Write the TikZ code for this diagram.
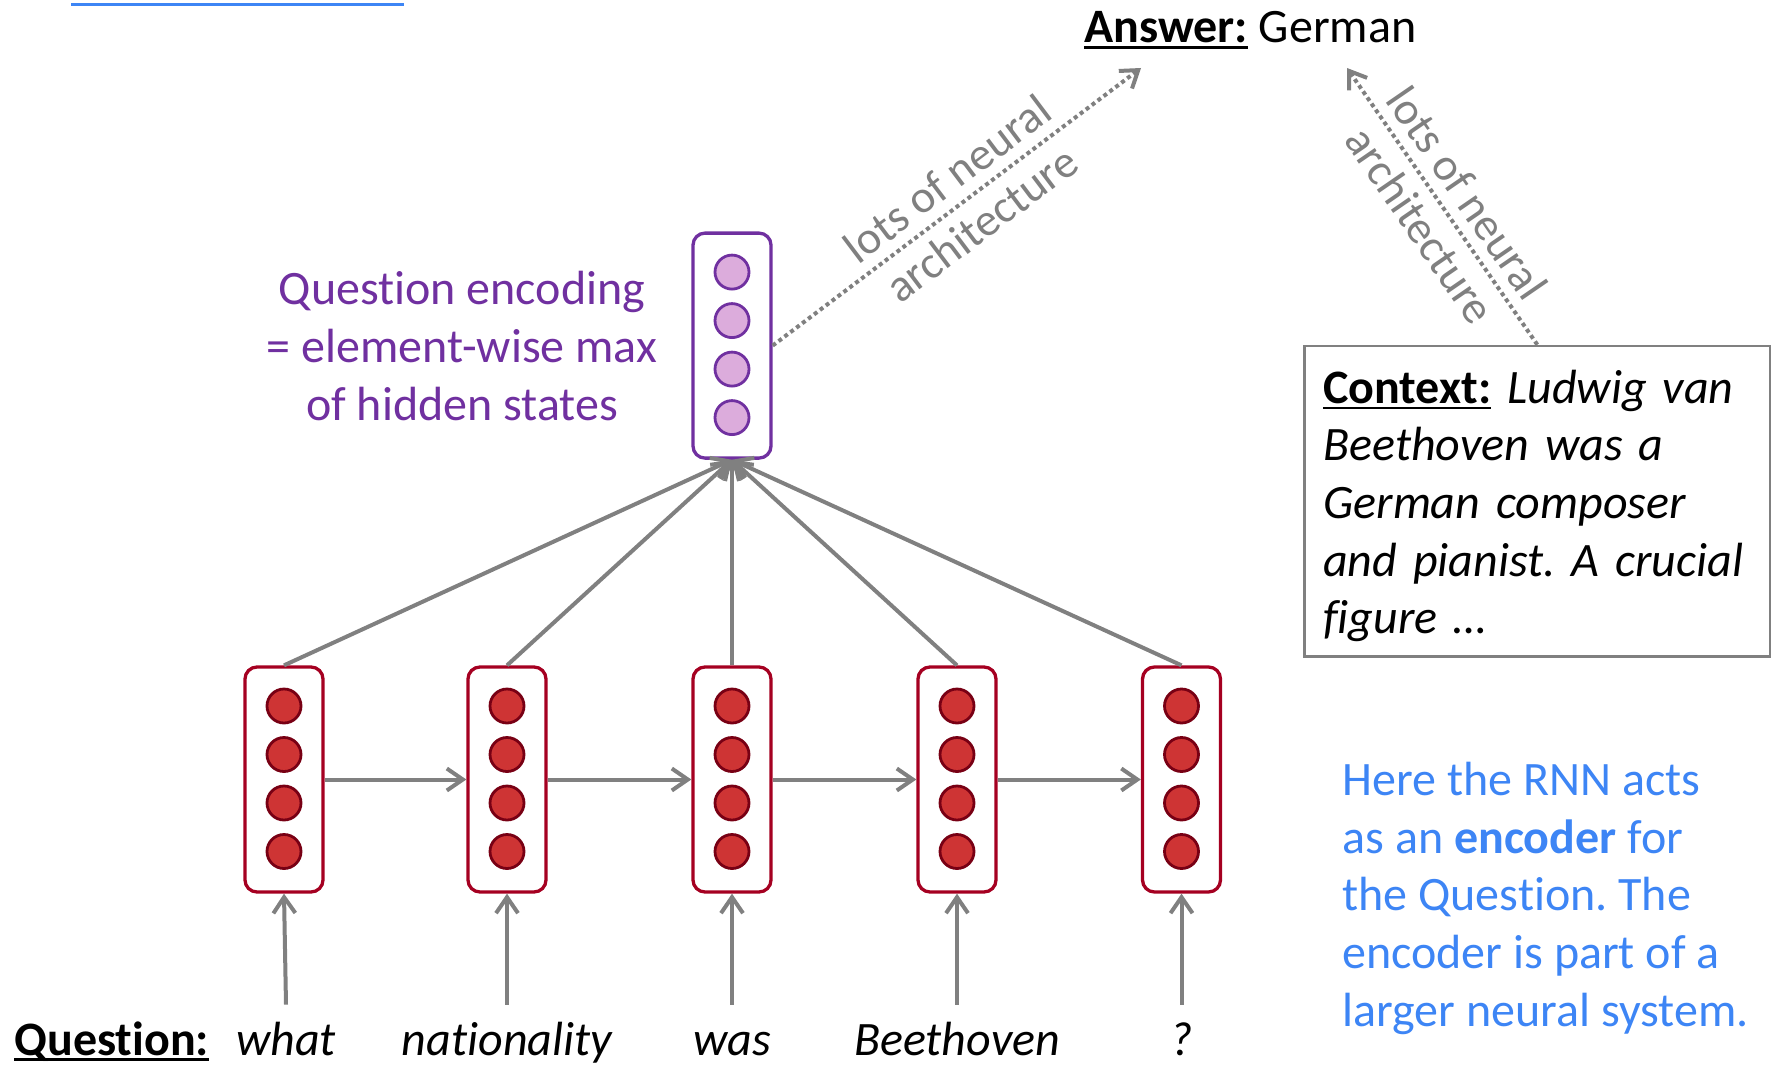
\documentclass[tikz,border=0pt]{standalone}
\usepackage{fontspec}
\setmainfont{Carlito}[Ligatures=CommonOff]
\usetikzlibrary{arrows.meta}

\definecolor{cellred}{RGB}{206,52,52}
\definecolor{celledge}{RGB}{120,0,20}
\definecolor{boxred}{RGB}{165,0,33}
\definecolor{encpurple}{RGB}{112,48,160}
\definecolor{encfill}{RGB}{220,172,220}
\definecolor{noteblue}{RGB}{61,133,245}
\definecolor{linkgray}{RGB}{128,128,128}

% underline drawn just below the baseline, covering the whole word
\newcommand\ulword[1]{\setbox0\hbox{#1}\rlap{\rule[-0.12em]{\wd0}{0.05em}}\box0\relax}

\begin{document}
\frenchspacing
\begin{tikzpicture}[x=0.5pt,y=-0.5pt,
  every node/.style={font=\fontsize{24}{28.8}\selectfont, inner sep=0pt},
  vbox/.style={draw, rounded corners=6pt, minimum width=39pt, minimum height=112.5pt,
    line width=1.65pt, fill=white},
  rnnbox/.style={vbox, draw=boxred},
  encbox/.style={vbox, draw=encpurple},
  rnncell/.style={circle, minimum size=17pt, draw=celledge, fill=cellred, line width=1.4pt},
  enccell/.style={circle, minimum size=17pt, draw=encpurple, fill=encfill, line width=1.4pt},
  flow/.style={draw=linkgray, line width=2pt,
    -{Straight Barb[length=8pt,width=11pt,line width=2pt]}},
  hop/.style={draw=linkgray, line width=2pt, dash pattern=on 2pt off 1.7pt,
    -{Straight Barb[length=8pt,width=11pt,line width=2pt]}},
  hoplabel/.style={sloped, align=center, text=linkgray,
    font=\fontsize{23}{28.5}\selectfont},
  word/.style={anchor=base, text height=18pt, text depth=6pt, inner ysep=7pt,
    font=\fontsize{24}{28.8}\selectfont\itshape},
]
\useasboundingbox (0,0) rectangle (1771,1065);

% link underline running along the top edge
\draw[noteblue, line width=1.35pt] (71,4.3) -- (404,4.3);

% recurrent hidden states
\foreach \i/\x in {1/284,2/507,3/732,4/957,5/1181.5} {
  \node[rnnbox] (h\i) at (\x,779.5) {};
  \foreach \j/\dy in {1/-73.5,2/-25,3/23.5,4/72}
    \node[rnncell] (h\i c\j) at (\x,779.5+\dy) {};
}

% question encoding vector
\node[encbox] (enc) at (732,345.6) {};
\foreach \j/\dy in {1/-73.5,2/-25,3/23.5,4/72}
  \node[enccell] (enc c\j) at (732,345.6+\dy) {};

\node[align=center, text=encpurple] (enclabel) at (462,346)
  {Question encoding\\= element-wise max\\of hidden states};

% input words
\node[anchor=base west] (qlabel) at (14,1055) {\ulword{\textbf{Question:}}};
\node[word] (w1) at (286,1055) {what};
\node[word] (w2) at (507,1055) {nationality};
\node[word] (w3) at (732,1055) {was};
\node[word] (w4) at (957,1055) {Beethoven};
\node[word] (w5) at (1181.5,1055) {?};

\foreach \i in {1,...,5} {
  \draw[flow] (w\i.north) -- (h\i.south);
  \draw[flow] (h\i.north) -- (enc.south);
}
\foreach \i/\n in {1/2,2/3,3/4,4/5}
  \draw[flow] (h\i.east) -- (h\n.west);

% answer and context
\node[anchor=base west] (ans) at (1084,43) {\ulword{\textbf{Answer:}} German};
\coordinate (ansL) at (1141,68);
\coordinate (ansR) at (1347,68);

\node[draw=linkgray, line width=1.3pt, inner xsep=9.5pt, inner ysep=5pt,
      text width=214pt, align=left, anchor=north west] (ctx) at (1303,344.7)
  {\rule{0pt}{23.6pt}\mbox{\ulword{\textbf{Context:}} \textit{Ludwig van}}\\
   \mbox{\textit{Beethoven was a}}\\
   \mbox{\textit{German composer}}\\
   \mbox{\textit{and pianist. A crucial}}\\
   \mbox{\textit{figure \dots}}\rule[-6.3pt]{0pt}{0pt}};

\draw[hop] (enc.east) -- (ansL)
  node[hoplabel, pos=0.52] {lots of neural\\architecture};
\draw[hop] (ctx.north) -- (ansR)
  node[hoplabel, pos=0.49] {lots of neural\\architecture};

% side note
\node[anchor=north west, align=left, text=noteblue] (note) at (1342,762)
  {Here the RNN acts\\
   as an \textbf{encoder} for\\
   the Question. The\\
   encoder is part of a\\
   larger neural system.};
\end{tikzpicture}
\end{document}
